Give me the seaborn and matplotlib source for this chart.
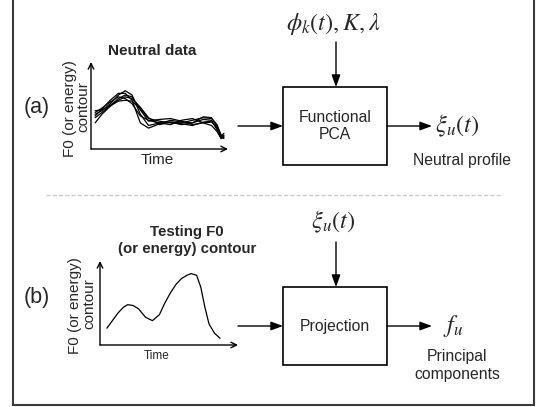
import pandas as pd
import seaborn as sns
import matplotlib.pyplot as plt
from matplotlib.patches import Rectangle

# Neutral data: several F0 contours (time and value as fractions of the small axes)
neutral_t = [0.03, 0.08, 0.14, 0.20, 0.25, 0.30, 0.36, 0.42, 0.50, 0.58, 0.66, 0.74, 0.82, 0.88, 0.92, 0.95, 0.97]
neutral_1 = [0.40, 0.44, 0.52, 0.62, 0.67, 0.62, 0.40, 0.27, 0.30, 0.31, 0.28, 0.30, 0.34, 0.33, 0.22, 0.13, 0.16]
neutral_2 = [0.36, 0.42, 0.50, 0.58, 0.62, 0.60, 0.45, 0.32, 0.34, 0.35, 0.32, 0.28, 0.30, 0.31, 0.25, 0.14, 0.12]
neutral_3 = [0.42, 0.47, 0.54, 0.60, 0.58, 0.52, 0.38, 0.33, 0.30, 0.28, 0.33, 0.35, 0.30, 0.27, 0.20, 0.12, 0.15]
neutral_4 = [0.30, 0.40, 0.49, 0.56, 0.60, 0.58, 0.48, 0.36, 0.28, 0.31, 0.30, 0.33, 0.36, 0.35, 0.28, 0.16, 0.13]
neutral_5 = [0.44, 0.45, 0.50, 0.55, 0.56, 0.55, 0.46, 0.35, 0.32, 0.30, 0.29, 0.27, 0.31, 0.32, 0.24, 0.15, 0.18]
neutral_6 = [0.38, 0.46, 0.56, 0.64, 0.64, 0.56, 0.30, 0.24, 0.29, 0.33, 0.31, 0.30, 0.37, 0.36, 0.26, 0.12, 0.14]
neutral_curves = [neutral_1, neutral_2, neutral_3, neutral_4, neutral_5, neutral_6]

# Testing contour
test_t = [0.05, 0.09, 0.13, 0.17, 0.20, 0.24, 0.28, 0.33, 0.38, 0.43, 0.47, 0.51, 0.55, 0.59,
          0.63, 0.66, 0.70, 0.73, 0.76, 0.79, 0.83, 0.87]
test_f0 = [0.20, 0.29, 0.38, 0.45, 0.48, 0.47, 0.43, 0.33, 0.29, 0.36, 0.50, 0.62, 0.72, 0.79,
           0.83, 0.85, 0.83, 0.69, 0.45, 0.25, 0.14, 0.08]

df_neutral = pd.concat([pd.DataFrame({'time': neutral_t, 'f0': c, 'curve': i})
                        for i, c in enumerate(neutral_curves)])
df_test = pd.DataFrame({'time': test_t, 'f0': test_f0})

sns.set_style("white")
plt.rcParams['font.family'] = ['Liberation Sans', 'DejaVu Sans']
plt.rcParams['mathtext.fontset'] = 'stix'

W, H = 536, 407
fig = plt.figure(figsize=(W / 100, H / 100), dpi=100)
ax = fig.add_axes([0, 0, 1, 1])
ax.set_xlim(0, W)
ax.set_ylim(H, 0)
ax.axis('off')

arrow = dict(arrowstyle='-|>,head_length=0.6,head_width=0.22', color='black', lw=1,
             shrinkA=0, shrinkB=0, mutation_scale=12)


def small_axes(x0, x1, y0, y1):
    return fig.add_axes([x0 / W, 1 - y1 / H, (x1 - x0) / W, (y1 - y0) / H])


def finish_small(a):
    a.set_xlim(0, 1)
    a.set_ylim(0, 1)
    a.axis('off')
    ax_arrow = dict(arrowstyle='->,head_length=0.5,head_width=0.25', color='black', lw=1,
                    shrinkA=0, shrinkB=0, mutation_scale=8)
    a.annotate('', xy=(1, 0), xytext=(0, 0), xycoords='axes fraction', arrowprops=ax_arrow)
    a.annotate('', xy=(0, 1), xytext=(0, 0), xycoords='axes fraction', arrowprops=ax_arrow)


# outer frame and separator
ax.add_patch(Rectangle((13, -5), 521, 410, fill=False, edgecolor='#3a3a3a', lw=1.5))
ax.plot([46, 501], [195, 195], color='#cccccc', lw=1, dashes=(3, 1.5))

# (a) neutral data
ax_a = small_axes(91, 228, 62, 149)
sns.lineplot(data=df_neutral, x='time', y='f0', units='curve', estimator=None,
             color='black', lw=0.9, ax=ax_a)
finish_small(ax_a)
ax.text(152, 51, 'Neutral data', ha='center', va='center', fontsize=11, fontweight='bold')
ax.text(70, 109, 'F0 (or energy)', rotation=90, ha='center', va='center', fontsize=11)
ax.text(83, 107, 'contour', rotation=90, ha='center', va='center', fontsize=11)
ax.text(157, 160, 'Time', ha='center', va='center', fontsize=11)
ax.text(37, 108, '(a)', ha='center', va='center', fontsize=15.5)

ax.add_patch(Rectangle((283, 87), 104, 78, fill=False, edgecolor='black', lw=1.2))
ax.text(335, 126, 'Functional\nPCA', ha='center', va='center', fontsize=11.3, linespacing=1.15)
ax.annotate('', xy=(283, 126), xytext=(238, 126), arrowprops=arrow)
ax.annotate('', xy=(336, 87), xytext=(336, 42), arrowprops=arrow)
ax.annotate('', xy=(432, 126), xytext=(387, 126), arrowprops=arrow)
ax.text(333, 24, r'$\phi_k(t), K, \lambda$', ha='center', va='center', fontsize=17.5)
ax.text(435, 126, r'$\xi_u(t)$', ha='left', va='center', fontsize=17.5)
ax.text(462, 161, 'Neutral profile', ha='center', va='center', fontsize=11.3)

# (b) testing contour
ax_b = small_axes(100, 238, 261, 345)
sns.lineplot(data=df_test, x='time', y='f0', color='black', lw=0.9, ax=ax_b)
finish_small(ax_b)
ax.text(187, 232, 'Testing F0', ha='center', va='center', fontsize=10.8, fontweight='bold')
ax.text(187, 249, '(or energy) contour', ha='center', va='center', fontsize=10.8, fontweight='bold')
ax.text(75, 306, 'F0 (or energy)', rotation=90, ha='center', va='center', fontsize=11)
ax.text(89, 304, 'contour', rotation=90, ha='center', va='center', fontsize=11)
ax.text(157, 356, 'Time', ha='center', va='center', fontsize=8.5)
ax.text(37, 297, '(b)', ha='center', va='center', fontsize=15.5)

ax.add_patch(Rectangle((283, 287), 104, 78, fill=False, edgecolor='black', lw=1.2))
ax.text(335, 326, 'Projection', ha='center', va='center', fontsize=11.3)
ax.annotate('', xy=(283, 326), xytext=(238, 326), arrowprops=arrow)
ax.annotate('', xy=(336, 287), xytext=(336, 242), arrowprops=arrow)
ax.annotate('', xy=(432, 326), xytext=(387, 326), arrowprops=arrow)
ax.text(333, 222, r'$\xi_u(t)$', ha='center', va='center', fontsize=17.5)
ax.text(443, 326, r'$f_u$', ha='left', va='center', fontsize=17.5)
ax.text(457, 357, 'Principal', ha='center', va='center', fontsize=11.3)
ax.text(457, 374, 'components', ha='center', va='center', fontsize=11.3)

plt.savefig('out.png', dpi=100)
